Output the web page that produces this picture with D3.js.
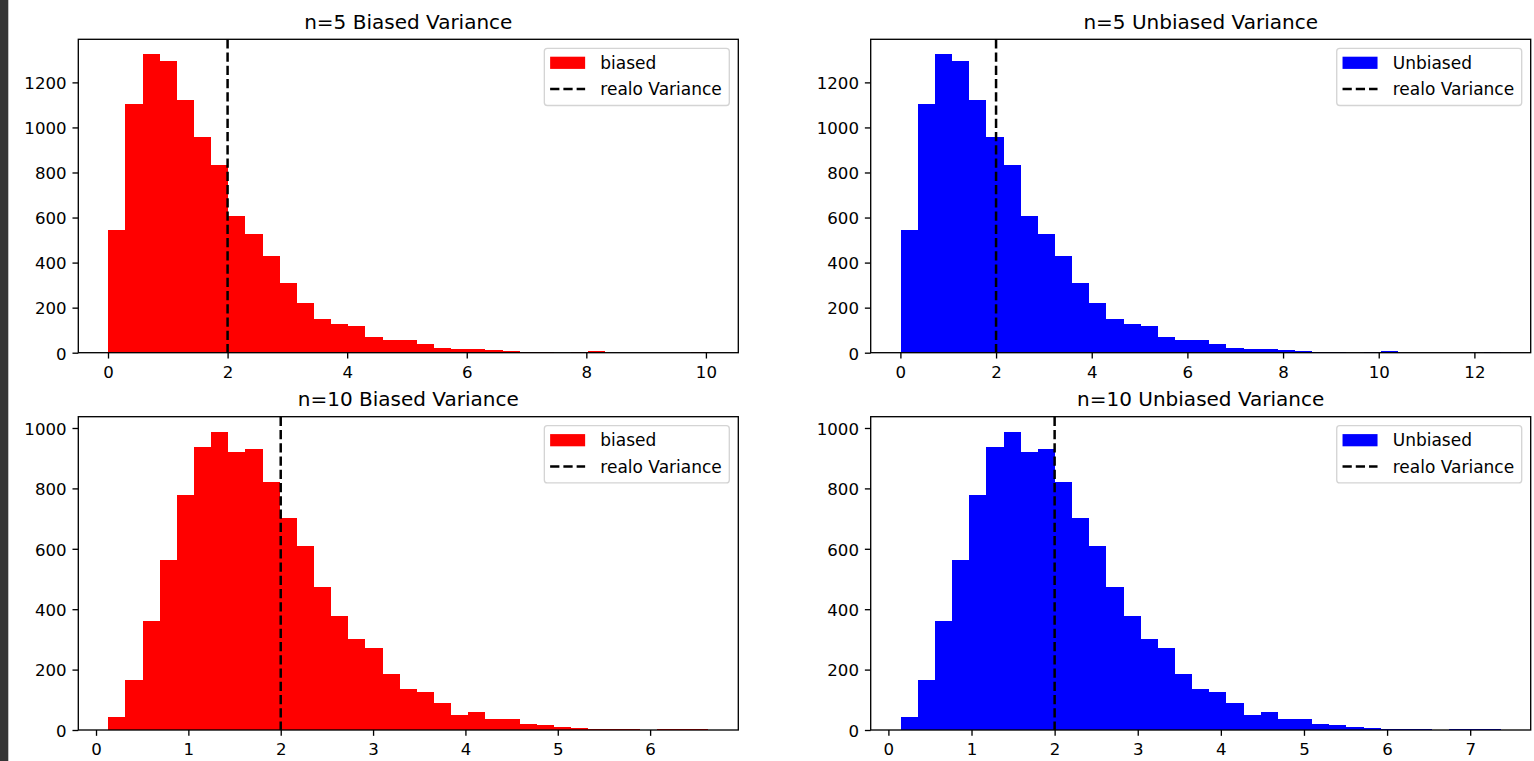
<!DOCTYPE html>
<html><head><meta charset="utf-8">
<script src="https://cdn.jsdelivr.net/npm/d3@7"></script>
<style>
html,body{margin:0;padding:0;background:#fff;overflow:hidden;}
svg{display:block;font-family:"DejaVu Sans",sans-serif;}
</style></head><body>
<svg id="c" width="1534" height="761"></svg>
<script>
// ---- data ----
const realVariance = 2;
const n5Counts = [544,1104,1325,1297,1121,956,833,608,527,428,311,222,149,129,117,71,55,55,40,22,16,16,10,6,1,1,0,1,6,0,0,0,0,0,1];
const n10Counts = [44,165,360,562,777,938,988,922,929,822,703,609,475,376,302,273,186,136,127,90,49,58,35,35,21,15,11,7,3,3,3,0,2,2,2];
const n5BiasedRange = [0.005, 10.04];
const n5UnbiasedRange = [0.00625, 12.55];
const n10BiasedRange = [0.133, 6.63];
const n10UnbiasedRange = [0.148, 7.367];
const n5BiasedXTicks = [0,2,4,6,8,10];
const n5UnbiasedXTicks = [0,2,4,6,8,10,12];
const n10BiasedXTicks = [0,1,2,3,4,5,6];
const n10UnbiasedXTicks = [0,1,2,3,4,5,6,7];
const n5YTicks = [0,200,400,600,800,1000,1200];
const n10YTicks = [0,200,400,600,800,1000];
const titles = ["n=5 Biased Variance","n=5 Unbiased Variance","n=10 Biased Variance","n=10 Unbiased Variance"];
const seriesLabels = ["biased","Unbiased"];
const lineLabel = "realo Variance";
const seriesColors = ["#ff0000","#0000ff"];

// ---- layout ----
const svg = d3.select("#c");
svg.append("rect").attr("x",0).attr("y",0).attr("width",8.3).attr("height",761).attr("fill","#353535");

const panels = [
  {title:titles[0], counts:n5Counts, range:n5BiasedRange, xticks:n5BiasedXTicks, yticks:n5YTicks, color:seriesColors[0], label:seriesLabels[0], x0:78.3, x1:738.3, y0:39.3, y1:352.7},
  {title:titles[1], counts:n5Counts, range:n5UnbiasedRange, xticks:n5UnbiasedXTicks, yticks:n5YTicks, color:seriesColors[1], label:seriesLabels[1], x0:870.7, x1:1530.7, y0:39.3, y1:352.7},
  {title:titles[2], counts:n10Counts, range:n10BiasedRange, xticks:n10BiasedXTicks, yticks:n10YTicks, color:seriesColors[0], label:seriesLabels[0], x0:78.3, x1:738.3, y0:416.7, y1:730},
  {title:titles[3], counts:n10Counts, range:n10UnbiasedRange, xticks:n10UnbiasedXTicks, yticks:n10YTicks, color:seriesColors[1], label:seriesLabels[1], x0:870.7, x1:1530.7, y0:416.7, y1:730}
];

const FS = 16.6, LFS = 17, LW = 1.33, TICK = 5.83;

panels.forEach(p => {
  const g = svg.append("g");
  const [a,b] = p.range, span = b - a;
  const x = d3.scaleLinear().domain([a - 0.05*span, b + 0.05*span]).range([p.x0, p.x1]);
  const y = d3.scaleLinear().domain([0, d3.max(p.counts)*1.05]).range([p.y1, p.y0]);
  const nb = p.counts.length;
  const edges = d3.range(nb+1).map(i => a + i*span/nb);

  g.append("g").selectAll("rect").data(p.counts).join("rect")
    .attr("x", (d,i) => x(edges[i]))
    .attr("width", (d,i) => x(edges[i+1]) - x(edges[i]))
    .attr("y", d => y(d))
    .attr("height", d => y(0) - y(d))
    .attr("fill", p.color)
    .attr("shape-rendering","crispEdges");

  g.append("line")
    .attr("x1", x(realVariance)).attr("x2", x(realVariance))
    .attr("y1", p.y0).attr("y2", p.y1)
    .attr("stroke","#000").attr("stroke-width",2.5).attr("stroke-dasharray","9.25,4");

  const xa = g.append("g").attr("transform",`translate(0,${p.y1})`)
    .call(d3.axisBottom(x).tickValues(p.xticks).tickFormat(d3.format("d")).tickSize(TICK).tickSizeOuter(0).tickPadding(7.3));
  const ya = g.append("g").attr("transform",`translate(${p.x0},0)`)
    .call(d3.axisLeft(y).tickValues(p.yticks).tickFormat(d3.format("d")).tickSize(TICK).tickSizeOuter(0).tickPadding(5.9));
  [xa,ya].forEach(ax => {
    ax.select(".domain").remove();
    ax.attr("font-family",null).attr("font-size",null);
    ax.selectAll("line").attr("stroke","#000").attr("stroke-width",LW);
    ax.selectAll("text").attr("fill","#000").style("font-size",FS+"px").style("font-family","DejaVu Sans");
  });
  ya.selectAll("text").attr("dy","0.38em");

  g.append("rect").attr("x",p.x0).attr("y",p.y0).attr("width",p.x1-p.x0).attr("height",p.y1-p.y0)
    .attr("fill","none").attr("stroke","#000").attr("stroke-width",LW);

  g.append("text").attr("x",(p.x0+p.x1)/2).attr("y",p.y0-10.8)
    .attr("text-anchor","middle").style("font-size","20px").attr("fill","#000").text(p.title);

  // legend
  const lg = g.append("g");
  const box = lg.append("rect");
  const t1 = lg.append("text").style("font-size",LFS+"px").attr("fill","#000").text(p.label);
  const t2 = lg.append("text").style("font-size",LFS+"px").attr("fill","#000").text(lineLabel);
  const tw = Math.max(t1.node().getComputedTextLength(), t2.node().getComputedTextLength());
  const bw = 56 + tw + 7.5, bh = 57.2;
  const bx = p.x1 - 9 - bw, by = p.y0 + 9;
  box.attr("x",bx).attr("y",by).attr("width",bw).attr("height",bh).attr("rx",3)
    .attr("fill","#fff").attr("fill-opacity",0.8).attr("stroke","#d4d4d4").attr("stroke-width",LW);
  lg.append("rect").attr("x",bx+5.8).attr("y",by+8.4).attr("width",35).attr("height",12.2).attr("fill",p.color);
  t1.attr("x",bx+56).attr("y",by+20.2);
  lg.append("line").attr("x1",bx+5.8).attr("x2",bx+40.8).attr("y1",by+40.8).attr("y2",by+40.8)
    .attr("stroke","#000").attr("stroke-width",2.5).attr("stroke-dasharray","9.25,4");
  t2.attr("x",bx+56).attr("y",by+46.9);
});
</script>
</body></html>
